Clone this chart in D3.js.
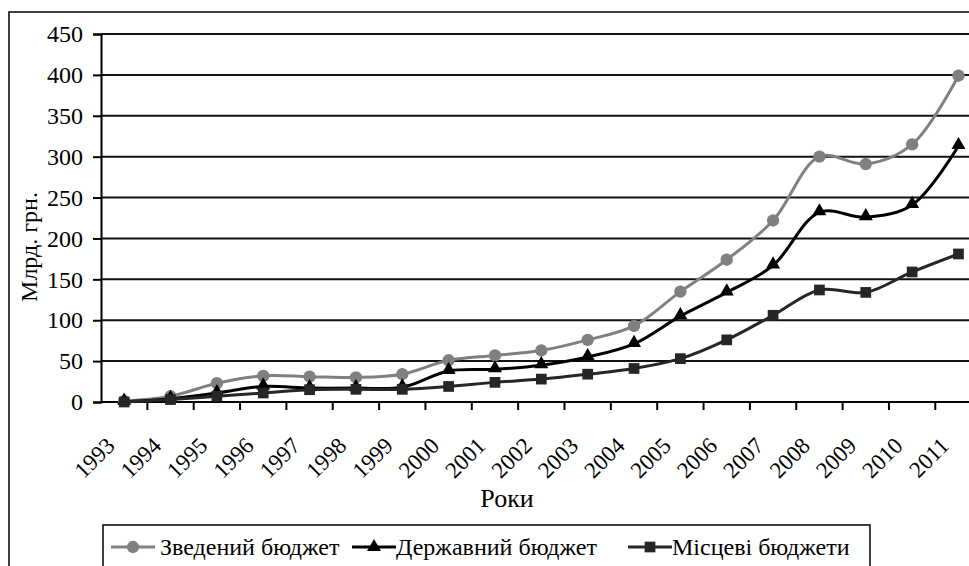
<!DOCTYPE html>
<html><head><meta charset="utf-8">
<script src="https://cdn.jsdelivr.net/npm/d3@7"></script>
<style>
html,body{margin:0;padding:0;background:#fff;overflow:hidden}
</style></head>
<body>
<svg id="c" width="969" height="566" font-family="Liberation Serif"></svg>
<script>
const years = [1993,1994,1995,1996,1997,1998,1999,2000,2001,2002,2003,2004,2005,2006,2007,2008,2009,2010,2011];
const consolidated = [1,7,23,32,31,30,34,51,57,63,76,93,135,174,222,300,291,315,399];
const stateBudget = [0.5,4,11,19,17,17,18,38,40,45,55,71,105,134,167,232,226,241,313];
const localBudgets = [0,3,7,11,15,15.5,15.5,19,24,28,34,41,53,76,106,137,134,159,181];
const yTicks = [0,50,100,150,200,250,300,350,400,450];
const seriesNames = ["Зведений бюджет","Державний бюджет","Місцеві бюджети"];
const yTitle = "Млрд. грн.";
const xTitle = "Роки";

const FONT = "Liberation Serif";
const svg = d3.select("#c");
const L = 101, T = 34, B = 402, R = 101 + 19*46.35;

svg.append("rect").attr("x",9).attr("y",12).attr("width",1000).attr("height",600)
  .attr("fill","none").attr("stroke","#000").attr("stroke-width",1.5);

const x = d3.scaleBand().domain(years).range([L,R]).paddingInner(0).paddingOuter(0);
const y = d3.scaleLinear().domain([0,450]).range([B,T]);

svg.append("g").selectAll("line").data(yTicks.filter(d=>d>0)).join("line")
  .attr("x1",L).attr("x2",R).attr("y1",d=>y(d)).attr("y2",d=>y(d))
  .attr("stroke","#111").attr("stroke-width",2);

const yAxis = svg.append("g").attr("transform",`translate(${L},0)`)
  .call(d3.axisLeft(y).tickValues(yTicks).tickSize(8).tickPadding(10).tickFormat(d3.format("d")));
yAxis.attr("font-family",FONT).attr("font-size",24);
yAxis.select(".domain").attr("stroke","#000").attr("stroke-width",2);
yAxis.selectAll(".tick line").attr("stroke","#000").attr("stroke-width",2);
yAxis.selectAll("text").attr("font-size",24).attr("font-family",FONT).attr("fill","#000");

const xAxisG = svg.append("g").attr("font-family",FONT);
xAxisG.append("line").attr("x1",L).attr("x2",R).attr("y1",B).attr("y2",B)
  .attr("stroke","#000").attr("stroke-width",2);
xAxisG.selectAll("line.tk").data(years).join("line").attr("class","tk")
  .attr("x1",d=>x(d)+x.bandwidth()).attr("x2",d=>x(d)+x.bandwidth())
  .attr("y1",B).attr("y2",B+8).attr("stroke","#000").attr("stroke-width",2);
xAxisG.selectAll("text").data(years).join("text")
  .attr("transform",d=>`translate(${x(d)+x.bandwidth()/2-8},447) rotate(-45)`)
  .attr("text-anchor","end").attr("font-size",23).attr("font-family",FONT).attr("fill","#000").text(d=>d);

svg.append("text").attr("transform","translate(37,247) rotate(-90)")
  .attr("text-anchor","middle").attr("font-size",24).attr("font-family",FONT).attr("fill","#000").text(yTitle);
svg.append("text").attr("x",507).attr("y",507).attr("text-anchor","middle")
  .attr("font-size",26).attr("font-family",FONT).attr("fill","#000").text(xTitle);

const series = [
  {name:seriesNames[0], values:consolidated, color:"#808080", marker:"circle"},
  {name:seriesNames[1], values:stateBudget, color:"#000000", marker:"triangle"},
  {name:seriesNames[2], values:localBudgets, color:"#262626", marker:"square"}
];
const sym = {circle:d3.symbolCircle, triangle:d3.symbolTriangle, square:d3.symbolSquare};
const symSize = {circle:120, triangle:85, square:115};
const line = d3.line().x((d,i)=>x(years[i])+x.bandwidth()/2).y(d=>y(d))
  .curve(d3.curveCatmullRom.alpha(0.5));

series.forEach(s=>{
  svg.append("path").datum(s.values).attr("d",line)
    .attr("fill","none").attr("stroke",s.color).attr("stroke-width",3);
  svg.append("g").selectAll("path").data(s.values).join("path")
    .attr("d",d3.symbol().type(sym[s.marker]).size(symSize[s.marker]))
    .attr("transform",(d,i)=>`translate(${x(years[i])+x.bandwidth()/2},${y(d)+(s.marker==="triangle"?-1:0)})`)
    .attr("fill",s.color);
});

svg.append("rect").attr("x",103).attr("y",525).attr("width",767).attr("height",60)
  .attr("fill","#fff").attr("stroke","#000").attr("stroke-width",1.5);
const lx = [111,352,628], tx = [160,396,672], ly = 547;
series.forEach((s,i)=>{
  svg.append("line").attr("x1",lx[i]).attr("x2",lx[i]+44).attr("y1",ly).attr("y2",ly)
    .attr("stroke",s.color).attr("stroke-width",3);
  svg.append("path").attr("d",d3.symbol().type(sym[s.marker]).size(symSize[s.marker]))
    .attr("transform",`translate(${lx[i]+22},${ly})`).attr("fill",s.color);
  svg.append("text").attr("x",tx[i]).attr("y",ly+8).attr("font-size",24).attr("font-family",FONT).attr("fill","#000").text(s.name);
});
</script>
</body></html>
